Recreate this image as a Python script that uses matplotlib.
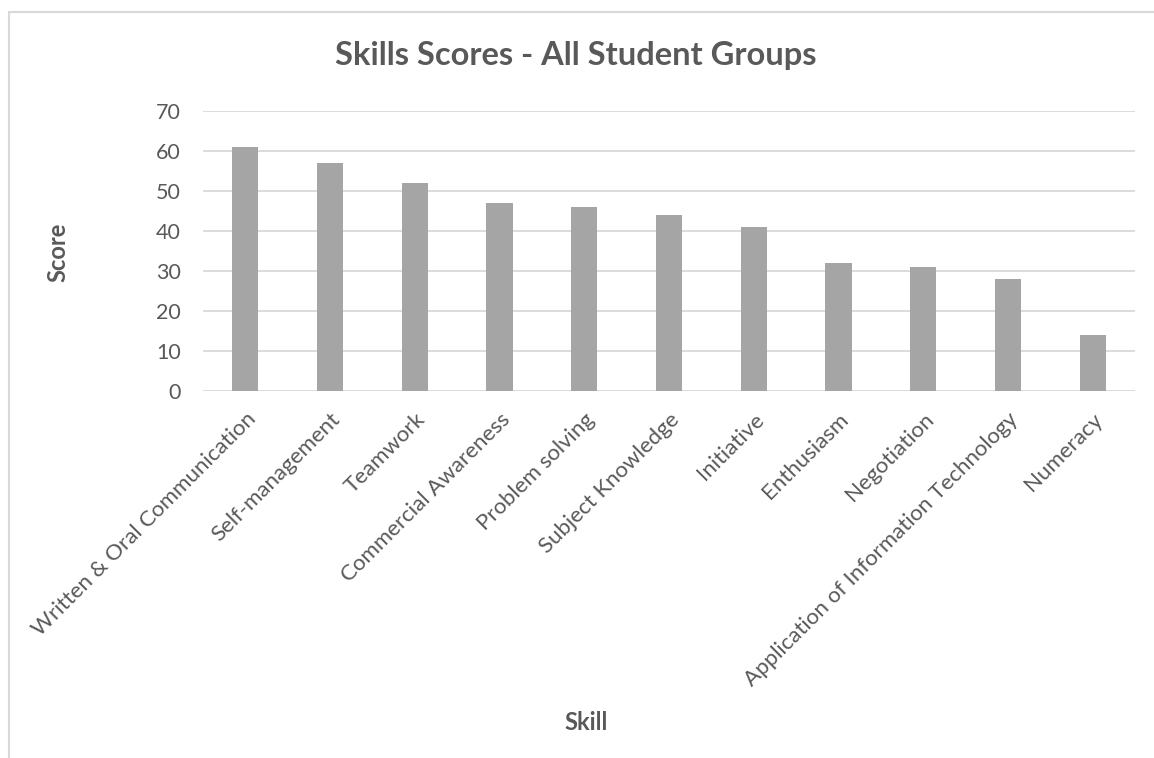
import matplotlib
matplotlib.use("Agg")
import matplotlib.pyplot as plt
from matplotlib.patches import Rectangle

skills = ["Written & Oral Communication", "Self-management", "Teamwork",
          "Commercial Awareness", "Problem solving", "Subject Knowledge",
          "Initiative", "Enthusiasm", "Negotiation",
          "Application of Information Technology", "Numeracy"]
scores = [61, 57, 52, 47, 46, 44, 41, 32, 31, 28, 14]
yticks = [0, 10, 20, 30, 40, 50, 60, 70]

plt.rcParams["font.family"] = ["Lato", "DejaVu Sans"]
txt = "#595959"

W, H = 1154, 758
fig = plt.figure(figsize=(W / 100, H / 100), dpi=100)

# chart border (cut off at right and bottom)
fig.patches.append(Rectangle((9 / W, -0.1), 1.2, 1 - 12 / H + 0.1,
                             transform=fig.transFigure, fill=False,
                             edgecolor="#D9D9D9", lw=1.5))

ax = fig.add_axes([203 / W, 1 - 391 / H, (1135 - 203) / W, (391 - 111) / H])
x = range(len(skills))
ax.bar(x, scores, width=0.31, color="#A5A5A5", zorder=3)
ax.set_xlim(-0.5, len(skills) - 0.5)
ax.set_ylim(0, 70)
ax.set_yticks(yticks)
ax.yaxis.grid(True, color="#D9D9D9", lw=1.3)
for s in ax.spines.values():
    s.set_visible(False)
ax.tick_params(length=0, labelsize=15.5, colors=txt)
ax.tick_params(axis="y", pad=16)
ax.set_xticks(list(x))
ax.set_xticklabels(skills, rotation=45, ha="right", rotation_mode="anchor",
                   fontsize=16)
ax.tick_params(axis="x", pad=13)

fig.text(576 / W, 1 - 55 / H, "Skills Scores - All Student Groups",
         ha="center", va="center", fontsize=23.5, fontweight="bold", color=txt)
fig.text(58 / W, 1 - 252 / H, "Score", rotation=90, ha="center", va="center",
         fontsize=17, fontweight="bold", color=txt)
fig.text(586 / W, 1 - 722 / H, "Skill", ha="center", va="center",
         fontsize=17, fontweight="bold", color=txt)

fig.savefig("out.png", dpi=100)
